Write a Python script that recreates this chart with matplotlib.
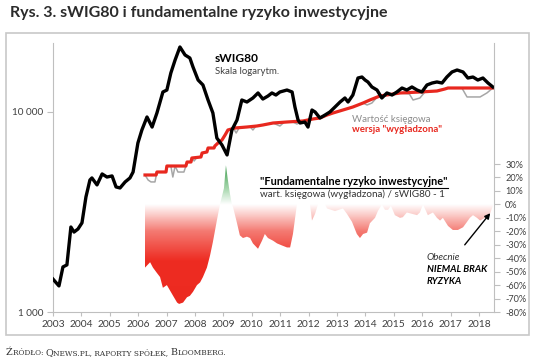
import numpy as np
import matplotlib
matplotlib.use('Agg')
import matplotlib.pyplot as plt
from matplotlib.colors import LinearSegmentedColormap, Normalize
from matplotlib.patches import Rectangle, FancyArrowPatch
from matplotlib.lines import Line2D
from matplotlib.ticker import FixedLocator, NullLocator

plt.rcParams['font.family'] = ['Lato', 'DejaVu Sans']

# sWIG80 (log scale)
swig_t = [2003.00, 2003.21, 2003.35, 2003.49, 2003.63, 2003.74, 2003.88, 2004.02, 2004.16, 2004.30,
          2004.37, 2004.55, 2004.73, 2004.90, 2005.08, 2005.22, 2005.36, 2005.54, 2005.71, 2005.82,
          2005.99, 2006.13, 2006.31, 2006.49, 2006.66, 2006.87, 2007.01, 2007.15, 2007.30, 2007.47,
          2007.65, 2007.82, 2007.93, 2008.11, 2008.28, 2008.46, 2008.63, 2008.77, 2008.95, 2009.13,
          2009.30, 2009.48, 2009.65, 2009.83, 2010.04, 2010.22, 2010.39, 2010.57, 2010.71, 2010.85,
          2010.99, 2011.24, 2011.42, 2011.52, 2011.63, 2011.70, 2011.87, 2011.98, 2012.12, 2012.23,
          2012.40, 2012.58, 2012.75, 2012.93, 2013.11, 2013.28, 2013.39, 2013.56, 2013.74, 2013.88,
          2013.99, 2014.09, 2014.23, 2014.41, 2014.58, 2014.76, 2014.94, 2015.11, 2015.29, 2015.46,
          2015.64, 2015.82, 2015.99, 2016.17, 2016.35, 2016.52, 2016.70, 2016.87, 2017.05, 2017.23,
          2017.44, 2017.61, 2017.79, 2017.96, 2018.14, 2018.32, 2018.49]
swig_v = [1460, 1350, 1680, 1720, 2660, 2510, 2600, 2790, 3760, 4570,
          4680, 4320, 4900, 4730, 4790, 4220, 4170, 4470, 4680, 5010,
          7000, 8130, 9440, 8410, 9890, 12590, 12880, 15670, 18200, 21140,
          19280, 18620, 16790, 14450, 13650, 11480, 9890, 7410, 6840, 6100,
          8130, 9120, 11480, 11220, 11750, 12450, 11610, 12020, 12450, 12160,
          12590, 12880, 12590, 10590, 9120, 8810, 8910, 8410, 10230, 10000,
          9330, 9660, 10000, 10590, 11220, 11750, 11220, 12160, 14790, 14960,
          14450, 14130, 13340, 12880, 11750, 12450, 12160, 12590, 13180, 12880,
          13340, 12880, 12590, 13650, 13960, 14130, 13960, 14960, 15850, 16220,
          15850, 14790, 14960, 14450, 14790, 13960, 13340]

# Wartość księgowa
book_t = [2006.24, 2006.35, 2006.45, 2006.59, 2006.66, 2006.98, 2007.01, 2007.15, 2007.22, 2007.30,
          2007.40, 2007.61, 2007.68, 2007.72, 2007.86, 2007.89, 2007.97, 2008.08, 2008.21, 2008.25,
          2008.42, 2008.46, 2008.67, 2008.70, 2008.81, 2008.95, 2009.06, 2009.16, 2009.35, 2009.45,
          2009.55, 2009.83, 2009.95, 2010.04, 2010.15, 2010.39, 2010.75, 2010.99, 2011.15, 2011.45,
          2011.59, 2011.80, 2012.15, 2012.40, 2012.65, 2012.86, 2013.21, 2013.56, 2013.92, 2014.06,
          2014.23, 2014.40, 2014.51, 2015.22, 2015.55, 2015.68, 2015.92, 2016.10, 2016.52, 2016.80,
          2016.91, 2017.40, 2017.58, 2018.04, 2018.28, 2018.49]
book_v = [4842, 4570, 4470, 4470, 5010, 5010, 5370, 5370, 4730, 5370,
          5010, 5010, 5370, 5620, 5620, 5890, 5690, 5960, 5960, 6240,
          6310, 6610, 6610, 6760, 7000, 7240, 7670, 8130, 8320, 7850,
          8320, 8410, 8410, 8130, 8510, 8610, 8810, 8510, 8910, 8910,
          8710, 9020, 9230, 9330, 9660, 9890, 10230, 10590, 11090, 10840,
          11090, 11800, 12020, 12450, 12300, 11480, 11750, 12600, 12740, 13030,
          13180, 13180, 11890, 11890, 12450, 13180]

# wersja "wygładzona"
smooth_t = [2006.24, 2006.63, 2006.66, 2006.98, 2007.01, 2007.68, 2007.72, 2007.86, 2007.89, 2008.21,
            2008.25, 2008.42, 2008.46, 2008.67, 2008.70, 2008.81, 2008.95, 2009.06, 2009.16, 2009.41,
            2009.83, 2010.18, 2010.39, 2010.75, 2011.24, 2011.80, 2012.15, 2012.40, 2012.65, 2012.86,
            2013.21, 2013.56, 2013.92, 2014.16, 2014.51, 2015.22, 2015.92, 2016.52, 2016.80, 2016.91,
            2018.49]
smooth_v = [4842, 4842, 5012, 5012, 5370, 5370, 5623, 5623, 5888, 5957,
            6237, 6310, 6607, 6607, 6761, 6998, 7244, 7674, 8128, 8318,
            8414, 8511, 8610, 8810, 8913, 9016, 9226, 9333, 9661, 9886,
            10233, 10593, 11092, 11482, 12023, 12445, 12589, 12735, 13032, 13183,
            13183]

# "Fundamentalne ryzyko inwestycyjne" (prawa oś)
risk_t = [2006.24, 2006.42, 2006.52, 2006.66, 2006.77, 2006.87, 2007.01, 2007.12, 2007.23, 2007.37,
          2007.44, 2007.58, 2007.72, 2007.82, 2007.93, 2008.07, 2008.18, 2008.28, 2008.42, 2008.53,
          2008.63, 2008.77, 2008.88, 2009.02, 2009.09, 2009.16, 2009.23, 2009.30, 2009.34, 2009.48,
          2009.58, 2009.69, 2009.83, 2009.94, 2010.04, 2010.22, 2010.36, 2010.46, 2010.57, 2010.75,
          2010.89, 2011.06, 2011.24, 2011.35, 2011.45, 2011.59, 2012.05, 2012.12, 2012.23, 2012.33,
          2012.58, 2012.65, 2012.93, 2013.21, 2013.35, 2013.53, 2013.70, 2013.81, 2013.92, 2014.06,
          2014.16, 2014.34, 2014.44, 2014.58, 2014.69, 2014.80, 2014.90, 2015.04, 2015.22, 2015.32,
          2015.46, 2015.64, 2015.82, 2015.92, 2016.03, 2016.20, 2016.38, 2016.52, 2016.63, 2016.73,
          2016.91, 2017.08, 2017.26, 2017.44, 2017.58, 2017.68, 2017.79, 2017.93, 2018.04, 2018.21,
          2018.39, 2018.49]
risk_v = [-0.47, -0.43, -0.47, -0.51, -0.54, -0.62, -0.60, -0.64, -0.68, -0.73,
          -0.74, -0.73, -0.69, -0.68, -0.65, -0.60, -0.58, -0.54, -0.47, -0.38,
          -0.28, -0.12, 0.0, 0.12, 0.29, 0.18, 0.08, 0.0, -0.02, -0.14,
          -0.23, -0.25, -0.24, -0.25, -0.29, -0.33, -0.27, -0.22, -0.25, -0.27,
          -0.29, -0.305, -0.32, -0.32, -0.22, 0.0, 0.0, -0.12, -0.07, 0.0,
          0.0, -0.03, -0.05, -0.03, -0.07, -0.13, -0.22, -0.25, -0.22, -0.21,
          -0.14, -0.10, -0.05, 0.0, -0.04, -0.04, -0.01, -0.08, -0.10, -0.095,
          -0.06, -0.07, -0.08, -0.06, 0.0, -0.08, -0.06, -0.10, -0.12, -0.10,
          -0.16, -0.19, -0.19, -0.17, -0.13, -0.10, -0.08, -0.10, -0.12, -0.10,
          -0.07, -0.01]

years = list(range(2003, 2019))
pct_ticks = [-0.8, -0.7, -0.6, -0.5, -0.4, -0.3, -0.2, -0.1, 0.0, 0.1, 0.2, 0.3]

W, H = 536, 361
fig = plt.figure(figsize=(W / 100, H / 100), dpi=100)


def fx(x):
    return x / W


def fy(y):
    return 1 - y / H


ax = fig.add_axes([fx(53), fy(312), fx(494) - fx(53), fy(43) - fy(312)])
ax2 = ax.twinx()

ax.plot(book_t, book_v, color='#a6a6a6', lw=1.1, zorder=2)
ax.plot(smooth_t, smooth_v, color='#e8281f', lw=2.3, zorder=3)
ax.plot(swig_t, swig_v, color='black', lw=2.4, zorder=4, solid_joinstyle='round')

# gradient area on the right axis
poly = ax2.fill_between(risk_t, risk_v, 0, facecolor='none', edgecolor='none')
vmin, vmax = -0.8, 0.35
pos = lambda v: (v - vmin) / (vmax - vmin)
cmap = LinearSegmentedColormap.from_list('risk', [
    (0.0, '#ec2a20'), (pos(-0.42), '#ee2c22'), (pos(-0.2), '#f47a72'),
    (pos(0.0), '#ffffff'), (pos(0.12), '#a6d7ad'), (pos(0.3), '#3a9a4a'), (1.0, '#3a9a4a')])
grad = np.linspace(vmin, vmax, 500).reshape(-1, 1)
img = ax2.imshow(grad, extent=[2003, 2018.6, vmin, vmax], origin='lower', aspect='auto',
                 cmap=cmap, norm=Normalize(vmin, vmax), interpolation='bilinear', zorder=1)
img.set_clip_path(poly.get_paths()[0], transform=ax2.transData)

ax.set_yscale('log')
ax.set_ylim(1000, 22130)
ax2.set_ylim(-0.8, 1.2)
ax.set_xlim(2003, 2018.53)

gray = '#bfbfbf'
lab = '#404040'
ax.xaxis.set_major_locator(FixedLocator(years))
ax.set_xticklabels([str(y) for y in years])
ax.yaxis.set_major_locator(FixedLocator([1000, 10000]))
ax.yaxis.set_minor_locator(NullLocator())
ax.set_yticklabels(['1 000', '10 000'])
ax2.yaxis.set_major_locator(FixedLocator(pct_ticks))
ax2.set_yticklabels(['%d%%' % round(v * 100) for v in pct_ticks])

ax.tick_params(axis='x', direction='out', length=3, color=gray, labelsize=7.4, labelcolor=lab, pad=3)
ax.tick_params(axis='y', direction='out', length=4, color=gray, labelsize=7.2, labelcolor=lab, pad=3)
ax2.tick_params(axis='y', direction='out', length=4, color=gray, labelsize=6.6, labelcolor=lab, pad=4)

for s in ['top', 'right']:
    ax.spines[s].set_visible(False)
for s in ['top', 'left', 'bottom']:
    ax2.spines[s].set_visible(False)
ax.spines['left'].set_color(gray)
ax.spines['bottom'].set_color(gray)
ax2.spines['right'].set_color(gray)

# frame and texts
fig.patches.append(Rectangle((fx(6), fy(335)), fx(529) - fx(6), fy(33) - fy(335),
                             transform=fig.transFigure, fill=False, ec='#c8c8c8', lw=1.2))

fig.text(fx(10), fy(13), 'Rys. 3. sWIG80 i fundamentalne ryzyko inwestycyjne',
         fontsize=11.5, fontweight='bold', color='#2b2b2b', va='center')

fig.text(fx(215), fy(59), 'sWIG80', fontsize=8.6, fontweight='bold', color='black', va='center')
fig.text(fx(215), fy(72), 'Skala logarytm.', fontsize=6.9, color='#404040', va='center')
fig.text(fx(352), fy(119), 'Wartość księgowa', fontsize=7, color='#8c8c8c', va='center')
fig.text(fx(352), fy(130), 'wersja "wygładzona"', fontsize=6.9, fontweight='bold', color='#e8281f', va='center')

t_head = fig.text(fx(260), fy(182), '"Fundamentalne ryzyko inwestycyjne"', fontsize=7.9,
                  fontweight='bold', color='black', va='center')
fig.text(fx(260), fy(194), 'wart. księgowa (wygładzona) / sWIG80 - 1', fontsize=7.1,
         color='#333333', va='center')

fig.text(fx(427), fy(258), 'Obecnie', fontsize=7, style='italic', color='#333333', va='center')
fig.text(fx(427), fy(270), 'NIEMAL BRAK', fontsize=6.9, style='italic', fontweight='bold',
         color='black', va='center')
fig.text(fx(427), fy(281), 'RYZYKA', fontsize=6.9, style='italic', fontweight='bold',
         color='black', va='center')

fig.add_artist(FancyArrowPatch((fx(463), fy(247)), (fx(492), fy(211)), transform=fig.transFigure,
                               arrowstyle='-|>', mutation_scale=8, color='black', lw=1))

# underline of heading
r = fig.canvas.get_renderer()
bb = t_head.get_window_extent(r)
fig.add_artist(Line2D([bb.x0 / W, bb.x1 / W], [fy(187.5)] * 2, transform=fig.transFigure,
                      color='black', lw=0.8))

# footer in small caps
pieces = [('Ź', 6.9), ('RÓDŁO: ', 5.3), ('Q', 6.9), ('NEWS.PL, RAPORTY SPÓŁEK, ', 5.3),
          ('B', 6.9), ('LOOMBERG.', 5.3)]
prev = None
for txt, size in pieces:
    if prev is None:
        prev = fig.text(fx(6), fy(355), txt, fontsize=size, family='DejaVu Serif',
                        color='#333333', va='baseline')
    else:
        prev = fig.add_artist(matplotlib.text.Annotation(
            txt, xy=(1, fy(355)), xycoords=(prev, 'figure fraction'), fontsize=size,
            family='DejaVu Serif', color='#333333', va='baseline', ha='left'))

fig.savefig('out.png', dpi=100)
